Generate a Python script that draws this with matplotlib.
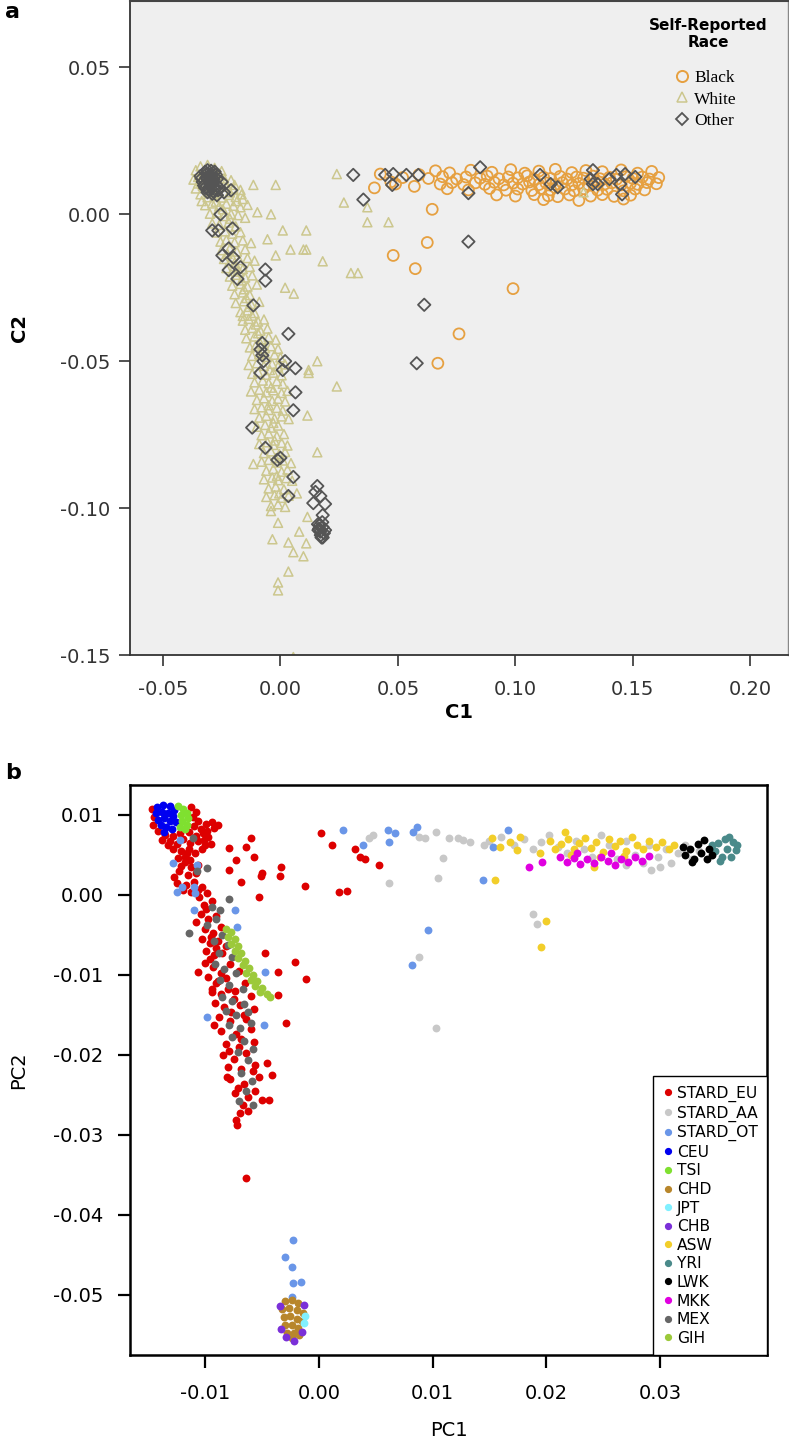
import matplotlib
matplotlib.use("Agg")
import matplotlib.pyplot as plt
import numpy as np
from matplotlib.lines import Line2D

# =========================
# PANEL A DATA (C1, C2)
# =========================
black = [
    (0.040, 0.009), (0.0425, 0.0137), (0.047, 0.011), (0.049, 0.0103), (0.052, 0.0125), (0.057, 0.0095), (0.059, 0.0135),
    (0.0646, 0.0017), (0.0625, -0.0096), (0.048, -0.014), (0.0574, -0.0185), (0.099, -0.0253), (0.076, -0.0407), (0.067, -0.0507),
    (0.066, 0.0148), (0.072, 0.0141), (0.081, 0.0150), (0.090, 0.0143), (0.098, 0.0152), (0.104, 0.0140), (0.110, 0.0147),
    (0.117, 0.0153), (0.124, 0.0142), (0.130, 0.0149), (0.137, 0.0145), (0.145, 0.0151), (0.152, 0.0140), (0.158, 0.0146),
    (0.063, 0.0122), (0.069, 0.0128), (0.075, 0.0120), (0.079, 0.0127), (0.085, 0.0123), (0.088, 0.0130), (0.093, 0.0121),
    (0.097, 0.0127), (0.101, 0.0124), (0.105, 0.0131), (0.108, 0.0119), (0.112, 0.0126), (0.115, 0.0122), (0.119, 0.0129),
    (0.122, 0.0120), (0.126, 0.0127), (0.129, 0.0123), (0.133, 0.0130), (0.136, 0.0121), (0.140, 0.0126), (0.143, 0.0119),
    (0.147, 0.0128), (0.150, 0.0122), (0.154, 0.0127), (0.157, 0.0120), (0.161, 0.0125),
    (0.068, 0.0103), (0.073, 0.0108), (0.078, 0.0101), (0.083, 0.0107), (0.087, 0.0102), (0.091, 0.0109), (0.095, 0.0100),
    (0.099, 0.0106), (0.103, 0.0103), (0.106, 0.0110), (0.110, 0.0101), (0.113, 0.0107), (0.117, 0.0102), (0.120, 0.0108),
    (0.124, 0.0100), (0.127, 0.0105), (0.131, 0.0101), (0.134, 0.0109), (0.138, 0.0103), (0.141, 0.0107), (0.145, 0.0100),
    (0.149, 0.0106), (0.152, 0.0102), (0.156, 0.0108), (0.160, 0.0104),
    (0.071, 0.0087), (0.080, 0.0083), (0.089, 0.0088), (0.096, 0.0082), (0.101, 0.0086), (0.107, 0.0081), (0.111, 0.0088),
    (0.115, 0.0083), (0.121, 0.0086), (0.125, 0.0080), (0.129, 0.0087), (0.135, 0.0082), (0.139, 0.0085), (0.146, 0.0080),
    (0.151, 0.0086), (0.155, 0.0083),
    (0.092, 0.0066), (0.100, 0.0062), (0.108, 0.0067), (0.114, 0.0063), (0.118, 0.0060), (0.123, 0.0066), (0.132, 0.0062),
    (0.137, 0.0067), (0.142, 0.0061), (0.149, 0.0065), (0.112, 0.0050), (0.127, 0.0047), (0.146, 0.0052),
]

white = [
    (-0.036, 0.015), (-0.034, 0.0163), (-0.031, 0.0168), (-0.028, 0.0158), (-0.025, 0.0147),
    (-0.037, 0.0118), (-0.035, 0.0127), (-0.033, 0.0134), (-0.030, 0.0139), (-0.027, 0.0128), (-0.024, 0.0122), (-0.021, 0.0116),
    (-0.036, 0.0088), (-0.033, 0.0097), (-0.029, 0.0092), (-0.026, 0.0101), (-0.023, 0.0094), (-0.020, 0.0087), (-0.017, 0.0083),
    (-0.034, 0.0068), (-0.031, 0.0058), (-0.028, 0.0063), (-0.025, 0.0057), (-0.022, 0.0066), (-0.019, 0.0059), (-0.016, 0.0052),
    (-0.032, 0.0031), (-0.029, 0.0037), (-0.026, 0.0028), (-0.023, 0.0036), (-0.020, 0.0029), (-0.017, 0.0024), (-0.014, 0.0032),
    (-0.030, 0.0002), (-0.027, 0.0006), (-0.024, -0.0006), (-0.021, 0.0001), (-0.018, -0.0003), (-0.015, -0.0012),
    (-0.029, -0.0031), (-0.026, -0.0036), (-0.022, -0.0028), (-0.019, -0.0041),
    (-0.035, 0.0105), (-0.032, 0.0118), (-0.0285, 0.0148), (-0.026, 0.0138), (-0.0235, 0.0107), (-0.0215, 0.0075),
    (-0.0185, 0.0045), (-0.0335, 0.0045), (-0.0305, 0.0077), (-0.0275, 0.0043), (-0.0245, 0.0017), (-0.0215, -0.0015),
    (-0.0165, 0.0068), (-0.0195, 0.0100),
    (-0.027, -0.0062), (-0.0235, -0.0058), (-0.0205, -0.0066), (-0.017, -0.0061),
    (-0.0255, -0.0093), (-0.023, -0.0087), (-0.0195, -0.0095), (-0.016, -0.0089), (-0.0125, -0.0098),
    (-0.025, -0.0122), (-0.0215, -0.0116), (-0.0185, -0.0127), (-0.015, -0.0119),
    (-0.024, -0.0152), (-0.0205, -0.0147), (-0.0175, -0.0156), (-0.014, -0.0149), (-0.011, -0.0158),
    (-0.023, -0.0183), (-0.0195, -0.0177), (-0.016, -0.0186), (-0.013, -0.0179),
    (-0.0215, -0.0212), (-0.019, -0.0206), (-0.015, -0.0215), (-0.012, -0.0208),
    (-0.0205, -0.0243), (-0.017, -0.0237), (-0.014, -0.0246), (-0.010, -0.0239),
    (-0.0195, -0.0272), (-0.016, -0.0266), (-0.013, -0.0275),
    (-0.019, -0.0302), (-0.0155, -0.0296), (-0.0125, -0.0305), (-0.009, -0.0298),
    (-0.017, -0.0333), (-0.014, -0.0327), (-0.011, -0.0336),
    (-0.016, -0.0362), (-0.0135, -0.0356), (-0.0095, -0.0365), (-0.007, -0.0358),
    (-0.015, -0.0393), (-0.012, -0.0387), (-0.0085, -0.0396), (-0.0055, -0.0389),
    (-0.0145, -0.0422), (-0.011, -0.0416), (-0.008, -0.0425), (-0.005, -0.0418), (-0.002, -0.0427),
    (-0.013, -0.0453), (-0.0105, -0.0447), (-0.0065, -0.0456), (-0.004, -0.0449), (-0.001, -0.0458),
    (-0.012, -0.0482), (-0.009, -0.0476), (-0.006, -0.0485), (-0.0025, -0.0478), (0.000, -0.0487),
    (-0.0135, -0.0513), (-0.010, -0.0507), (-0.007, -0.0516), (-0.0035, -0.0509), (-0.001, -0.0518), (0.002, -0.0511),
    (-0.012, -0.0543), (-0.0095, -0.0537), (-0.006, -0.0546), (-0.003, -0.0539), (0.0005, -0.0548),
    (-0.011, -0.0572), (-0.0075, -0.0566), (-0.005, -0.0575), (-0.0015, -0.0568), (0.001, -0.0577),
    (-0.0125, -0.0603), (-0.009, -0.0597), (-0.006, -0.0606), (-0.003, -0.0599), (0.0005, -0.0608), (0.003, -0.0601),
    (-0.010, -0.0632), (-0.007, -0.0626), (-0.0035, -0.0635), (-0.001, -0.0628), (0.002, -0.0637),
    (-0.011, -0.0663), (-0.008, -0.0657), (-0.005, -0.0666), (-0.0015, -0.0659), (0.001, -0.0668),
    (-0.009, -0.0692), (-0.006, -0.0686), (-0.0025, -0.0695), (0.0005, -0.0688), (0.0035, -0.0697),
    (-0.010, -0.0723), (-0.0065, -0.0717), (-0.004, -0.0726), (-0.001, -0.0719),
    (-0.008, -0.0752), (-0.005, -0.0746), (-0.0015, -0.0755), (0.0015, -0.0748),
    (-0.009, -0.0782), (-0.0055, -0.0776), (-0.003, -0.0785), (0.0005, -0.0778), (0.003, -0.0787),
    (-0.007, -0.0813), (-0.004, -0.0807), (-0.0005, -0.0816), (0.002, -0.0809),
    (-0.008, -0.0842), (-0.005, -0.0836), (-0.0015, -0.0845), (0.001, -0.0838), (0.0045, -0.0847),
    (-0.006, -0.0873), (-0.003, -0.0867), (0.0005, -0.0876), (0.003, -0.0869),
    (-0.007, -0.0902), (-0.0035, -0.0896), (-0.001, -0.0905), (0.0025, -0.0898), (0.005, -0.0907),
    (-0.005, -0.0933), (-0.002, -0.0927), (0.0015, -0.0936),
    (-0.006, -0.0962), (-0.0025, -0.0956), (0.0005, -0.0965), (0.0035, -0.0958),
    (-0.004, -0.0993), (-0.001, -0.0987), (0.002, -0.0996),
    (-0.0225, -0.0135), (-0.0195, -0.0165), (-0.0175, -0.0195), (-0.0165, -0.0225), (-0.0155, -0.0255), (-0.0145, -0.0285),
    (-0.0135, -0.0315), (-0.0120, -0.0345), (-0.0105, -0.0375), (-0.0095, -0.0405), (-0.0085, -0.0440), (-0.0075, -0.0470),
    (-0.0045, -0.0530), (-0.0040, -0.0590), (-0.0050, -0.0650), (-0.0030, -0.0710), (-0.0025, -0.0770), (-0.0020, -0.0830),
    (-0.0015, -0.0890), (-0.0005, -0.0950),
    (-0.004, -0.101), (-0.001, -0.105), (-0.0034, -0.1106), (0.0034, -0.1117), (0.0055, -0.115), (0.0098, -0.1164),
    (0.0034, -0.1216), (-0.001, -0.1253), (-0.001, -0.128), (0.0115, -0.103), (0.008, -0.108), (0.011, -0.112),
    (0.007, -0.095), (0.0055, -0.1507),
    (0.0157, -0.081), (0.024, -0.0586), (0.0157, -0.050), (0.012, -0.054), (0.0115, -0.0685), (-0.016, -0.0346), (-0.0115, -0.085),
    (-0.002, 0.010), (-0.0115, 0.010), (-0.004, 0.0), (0.001, -0.0055), (0.011, -0.0055), (-0.0055, -0.0085), (0.0043, -0.012),
    (0.0098, -0.012), (-0.002, -0.014), (0.018, -0.016), (0.030, -0.020), (0.033, -0.020), (-0.0098, 0.0007), (0.002, -0.025),
    (0.0057, -0.027), (0.024, 0.0137), (0.027, 0.004), (0.037, 0.0024), (0.037, -0.0027), (0.046, -0.0027), (0.011, -0.012),
    (0.012, -0.053), (0.129, 0.0075),
]

other = [
    (-0.034, 0.013), (-0.032, 0.0145), (-0.030, 0.0135), (-0.028, 0.0145), (-0.033, 0.011), (-0.031, 0.012), (-0.029, 0.011),
    (-0.027, 0.012), (-0.025, 0.011), (-0.032, 0.009), (-0.030, 0.0095), (-0.028, 0.0085), (-0.026, 0.009), (-0.031, 0.0075),
    (-0.029, 0.007), (-0.027, 0.0065), (-0.024, 0.0075), (-0.021, 0.0082), (-0.029, 0.0125), (-0.030, 0.0105),
    (-0.0335, 0.0122), (-0.0315, 0.0138), (-0.0295, 0.0148), (-0.0275, 0.0135), (-0.0285, 0.0118), (-0.0305, 0.0112),
    (-0.0325, 0.0098), (-0.0295, 0.0098), (-0.0275, 0.0102), (-0.0265, 0.0082), (-0.0305, 0.0085), (-0.0285, 0.0078),
    (-0.0315, 0.0125), (-0.0290, 0.0135), (-0.0310, 0.0150),
    (-0.0255, 0.0), (-0.029, -0.0055), (-0.0264, -0.0055), (-0.0204, -0.0048), (-0.022, -0.0116), (-0.0247, -0.014),
    (-0.020, -0.0147), (-0.017, -0.018), (-0.022, -0.019), (-0.0183, -0.022), (-0.0064, -0.0188), (-0.0064, -0.0226),
    (-0.0115, -0.031), (0.0034, -0.0407), (-0.0077, -0.0438), (-0.0085, -0.046), (-0.0077, -0.048), (-0.0072, -0.050),
    (-0.0085, -0.054), (0.002, -0.050), (0.001, -0.053), (0.0064, -0.0524), (0.0064, -0.0606), (0.0055, -0.0667),
    (-0.012, -0.0726), (-0.0064, -0.0795), (-0.0013, -0.0836), (0.0, -0.0829), (0.0055, -0.0894), (0.0034, -0.0959),
    (0.0157, -0.0925), (0.0149, -0.0945), (0.017, -0.0959), (0.014, -0.0983), (0.019, -0.0986), (0.018, -0.1024),
    (0.016, -0.1055), (0.018, -0.1065), (0.017, -0.108), (0.019, -0.1075), (0.0175, -0.110), (0.0165, -0.107),
    (0.0168, -0.1058), (0.0178, -0.1048), (0.0185, -0.1085), (0.0172, -0.1092), (0.0162, -0.1075), (0.0180, -0.1100),
    (0.031, 0.0134), (0.0353, 0.005), (0.0446, 0.0134), (0.048, 0.0137), (0.0476, 0.010), (0.0536, 0.0134), (0.0587, 0.0134),
    (0.085, 0.016), (0.080, 0.0072), (0.080, -0.0093), (0.0612, -0.0308), (0.058, -0.0507), (0.1105, 0.0134), (0.115, 0.0103),
    (0.118, 0.0092), (0.133, 0.015), (0.132, 0.012), (0.133, 0.0103), (0.135, 0.0103), (0.140, 0.012), (0.143, 0.0134),
    (0.1467, 0.0137), (0.151, 0.0127), (0.1446, 0.0103), (0.1454, 0.0068),
]

race_labels = ["Black", "White", "Other"]

# =========================
# PANEL B DATA (PC1, PC2)
# =========================
stard_eu = [
    (-0.0147, 0.0108), (-0.0145, 0.0098), (-0.0146, 0.0088), (-0.0141, 0.0080), (-0.0135, 0.0075), (-0.0128, 0.0074),
    (-0.0122, 0.0078), (-0.0112, 0.0110), (-0.0108, 0.0104), (-0.0111, 0.0097), (-0.0106, 0.0092), (-0.0110, 0.0086),
    (-0.0104, 0.0083), (-0.0099, 0.0089), (-0.0094, 0.0091), (-0.0089, 0.0088), (-0.0114, 0.0079), (-0.0108, 0.0074),
    (-0.0102, 0.0077), (-0.0097, 0.0072), (-0.0131, 0.0068), (-0.0125, 0.0064), (-0.0119, 0.0070), (-0.0113, 0.0065),
    (-0.0106, 0.0068), (-0.0100, 0.0063), (-0.0128, 0.0058), (-0.0121, 0.0055), (-0.0114, 0.0058), (-0.0109, 0.0053),
    (-0.0118, 0.0048), (-0.0103, 0.0057),
    (-0.0133, 0.0062), (-0.0138, 0.0069), (-0.0124, 0.0046), (-0.0116, 0.0052), (-0.0098, 0.0080), (-0.0092, 0.0084),
    (-0.0101, 0.0069), (-0.0095, 0.0064), (-0.0121, 0.0036), (-0.0113, 0.0044), (-0.0127, 0.0023), (-0.0106, 0.0037),
    (-0.0119, 0.0006), (-0.0106, 0.0006), (-0.0099, -0.0017), (-0.0108, -0.0034), (-0.0095, -0.0052), (-0.0090, -0.0066),
    (-0.0096, -0.0080), (-0.0086, -0.0098), (-0.0080, -0.0118), (-0.0077, -0.0146), (-0.0092, -0.0162), (-0.0068, -0.0180),
    (-0.0079, -0.0195), (-0.0058, -0.0220), (-0.0071, -0.0241), (-0.0056, -0.0245), (-0.0069, -0.0272), (-0.0081, -0.0228),
    (-0.0090, -0.0110), (-0.0075, -0.0130), (-0.0066, -0.0150),
    (-0.0079, 0.0059), (-0.0060, 0.0071), (-0.0064, 0.0060), (-0.0073, 0.0044), (-0.0057, 0.0048), (-0.0079, 0.0031),
    (-0.0050, 0.0028), (-0.0051, 0.0024), (-0.0068, 0.0016), (-0.0053, -0.0003), (-0.0033, 0.0035), (-0.0034, 0.0024),
    (-0.0012, 0.0011), (0.0002, 0.0078), (0.0012, 0.0063), (0.0018, 0.0004), (0.0025, 0.0005), (0.0032, 0.0058),
    (0.0036, 0.0048), (0.0041, 0.0045), (0.0053, 0.0037), (-0.0047, -0.0073), (-0.0021, -0.0084), (-0.0036, -0.0096),
    (-0.0011, -0.0105), (-0.0036, -0.0125), (-0.0029, -0.0160), (-0.0106, -0.0096), (-0.0094, -0.0121),
    (-0.0118, 0.0041), (-0.0112, 0.0035), (-0.0123, 0.0030), (-0.0115, 0.0025), (-0.0108, 0.0028), (-0.0125, 0.0015),
    (-0.0117, 0.0012), (-0.0110, 0.0016), (-0.0103, 0.0010), (-0.0112, 0.0004), (-0.0105, -0.0002), (-0.0098, 0.0002),
    (-0.0101, -0.0012), (-0.0094, -0.0008), (-0.0104, -0.0024), (-0.0097, -0.0030), (-0.0090, -0.0026), (-0.0100, -0.0042),
    (-0.0093, -0.0047), (-0.0086, -0.0040), (-0.0103, -0.0055), (-0.0096, -0.0060), (-0.0089, -0.0058), (-0.0082, -0.0064),
    (-0.0099, -0.0070), (-0.0092, -0.0075), (-0.0085, -0.0072), (-0.0100, -0.0085), (-0.0093, -0.0090), (-0.0078, -0.0086),
    (-0.0070, -0.0095), (-0.0097, -0.0102), (-0.0089, -0.0108), (-0.0082, -0.0104), (-0.0065, -0.0110), (-0.0094, -0.0118),
    (-0.0086, -0.0124), (-0.0074, -0.0120), (-0.0060, -0.0126), (-0.0091, -0.0135), (-0.0083, -0.0140), (-0.0069, -0.0138),
    (-0.0057, -0.0142), (-0.0088, -0.0152), (-0.0078, -0.0158), (-0.0064, -0.0155), (-0.0086, -0.0170), (-0.0073, -0.0174),
    (-0.0060, -0.0168), (-0.0082, -0.0186), (-0.0070, -0.0190), (-0.0057, -0.0184), (-0.0084, -0.0200), (-0.0075, -0.0205),
    (-0.0064, -0.0198), (-0.0080, -0.0215), (-0.0068, -0.0218), (-0.0056, -0.0212), (-0.0046, -0.0210), (-0.0078, -0.0230),
    (-0.0066, -0.0236), (-0.0053, -0.0228), (-0.0041, -0.0225), (-0.0074, -0.0248), (-0.0062, -0.0252), (-0.0050, -0.0256),
    (-0.0044, -0.0256), (-0.0067, -0.0263), (-0.0073, -0.0281), (-0.0072, -0.0288), (-0.0062, -0.0270), (-0.0064, -0.0354),
]

stard_aa = [
    (0.0044, 0.0071), (0.0048, 0.0075), (0.0062, 0.0015), (0.0088, 0.0073), (0.0093, 0.0071), (0.0103, 0.0079),
    (0.0114, 0.0071), (0.0109, 0.0046), (0.0105, 0.0021), (0.0088, -0.0078), (0.0103, -0.0166), (0.0122, 0.0071),
    (0.0127, 0.0069), (0.0133, 0.0066), (0.0145, 0.0062), (0.0150, 0.0068), (0.0160, 0.0072), (0.0172, 0.0063),
    (0.0180, 0.0070), (0.0188, 0.0058), (0.0195, 0.0066), (0.0202, 0.0075), (0.0210, 0.0060), (0.0218, 0.0052),
    (0.0226, 0.0068), (0.0233, 0.0058), (0.0240, 0.0048), (0.0248, 0.0075), (0.0255, 0.0062), (0.0262, 0.0045),
    (0.0270, 0.0068), (0.0278, 0.0050), (0.0285, 0.0040), (0.0292, 0.0031), (0.0290, 0.0062), (0.0298, 0.0048),
    (0.0305, 0.0057), (0.0310, 0.0040), (0.0316, 0.0052), (0.0322, 0.0062), (0.0328, 0.0045), (0.0334, 0.0055),
    (0.0300, 0.0035), (0.0270, 0.0038), (0.0188, -0.0024), (0.0192, -0.0036),
]

stard_ot = [
    (-0.0128, 0.0040), (-0.0125, 0.0004), (-0.0120, 0.0010), (-0.0110, 0.0010), (-0.0109, 0.0002), (-0.0107, 0.0037),
    (-0.0110, -0.0019), (-0.0074, -0.0019), (-0.0072, -0.0040), (-0.0047, -0.0096), (-0.0098, -0.0153), (-0.0048, -0.0163),
    (-0.0122, 0.0069), (0.0021, 0.0081), (0.0039, 0.0063), (0.0061, 0.0081), (0.0067, 0.0078), (0.0062, 0.0066),
    (0.0086, 0.0085), (0.0083, 0.0079), (0.0096, -0.0044), (0.0082, -0.0088), (0.0166, 0.0081), (0.0153, 0.0060),
    (0.0144, 0.0019), (-0.0023, -0.0431), (-0.0030, -0.0452), (-0.0024, -0.0465), (-0.0023, -0.0485), (-0.0016, -0.0484),
    (-0.0024, -0.0503),
]

ceu = [
    (-0.0142, 0.0110), (-0.0137, 0.0113), (-0.0131, 0.0111), (-0.0127, 0.0106), (-0.0143, 0.0102), (-0.0138, 0.0104),
    (-0.0133, 0.0102), (-0.0128, 0.0099), (-0.0141, 0.0094), (-0.0136, 0.0096), (-0.0131, 0.0093), (-0.0126, 0.0091),
    (-0.0139, 0.0087), (-0.0134, 0.0085), (-0.0129, 0.0083), (-0.0136, 0.0079),
]

tsi = [
    (-0.0124, 0.0111), (-0.0119, 0.0108), (-0.0116, 0.0103), (-0.0121, 0.0100), (-0.0115, 0.0096), (-0.0120, 0.0092),
    (-0.0116, 0.0088), (-0.0122, 0.0085), (-0.0118, 0.0082),
]

chd = [
    (-0.0030, -0.0508), (-0.0024, -0.0506), (-0.0018, -0.0510), (-0.0032, -0.0518), (-0.0026, -0.0516), (-0.0019, -0.0519),
    (-0.0014, -0.0522), (-0.0031, -0.0528), (-0.0025, -0.0526), (-0.0019, -0.0530), (-0.0015, -0.0533), (-0.0030, -0.0538),
    (-0.0024, -0.0537), (-0.0018, -0.0541), (-0.0028, -0.0547), (-0.0022, -0.0548), (-0.0017, -0.0550), (-0.0024, -0.0554),
]

jpt = [(-0.0013, -0.0535), (-0.0012, -0.0526)]

chb = [(-0.0034, -0.0514), (-0.0033, -0.0542), (-0.0022, -0.0557), (-0.0013, -0.0512), (-0.0029, -0.0553), (-0.0015, -0.0546)]

asw = [
    (0.0155, 0.0019), (0.0216, 0.0079), (0.0152, 0.0071), (0.0159, 0.0060), (0.0168, 0.0066), (0.0177, 0.0073),
    (0.0174, 0.0056), (0.0194, 0.0053), (0.0242, 0.0035), (0.0203, 0.0068), (0.0208, 0.0058), (0.0213, 0.0064),
    (0.0219, 0.0070), (0.0224, 0.0057), (0.0229, 0.0065), (0.0234, 0.0071), (0.0239, 0.0059), (0.0244, 0.0066),
    (0.0250, 0.0054), (0.0255, 0.0070), (0.0260, 0.0061), (0.0265, 0.0067), (0.0270, 0.0055), (0.0275, 0.0072),
    (0.0280, 0.0062), (0.0285, 0.0057), (0.0290, 0.0068), (0.0296, 0.0060), (0.0302, 0.0066), (0.0308, 0.0058),
    (0.0312, 0.0063), (0.0222, 0.0050), (0.0247, 0.0048), (0.0268, 0.0049), (0.0200, -0.0032), (0.0195, -0.0065),
]

yri = [
    (0.0348, 0.0055), (0.0351, 0.0065), (0.0354, 0.0047), (0.0357, 0.0070), (0.0359, 0.0058), (0.0362, 0.0048),
    (0.0364, 0.0066), (0.0367, 0.0056), (0.0353, 0.0042), (0.0361, 0.0073), (0.0368, 0.0062), (0.0346, 0.0062),
]

lwk = [
    (0.0322, 0.0050), (0.0326, 0.0058), (0.0330, 0.0045), (0.0333, 0.0064), (0.0336, 0.0052), (0.0339, 0.0069),
    (0.0341, 0.0045), (0.0343, 0.0058), (0.0328, 0.0041), (0.0320, 0.0060), (0.0346, 0.0050),
]

mkk = [
    (0.0185, 0.0035), (0.0196, 0.0041), (0.0212, 0.0048), (0.0218, 0.0041), (0.0224, 0.0046), (0.0230, 0.0039),
    (0.0236, 0.0045), (0.0242, 0.0040), (0.0248, 0.0047), (0.0254, 0.0042), (0.0260, 0.0038), (0.0266, 0.0045),
    (0.0272, 0.0041), (0.0278, 0.0047), (0.0284, 0.0043), (0.0290, 0.0049), (0.0227, 0.0052), (0.0257, 0.0052),
]

mex = [
    (-0.0111, 0.0071), (-0.0098, 0.0034), (-0.0107, 0.0030), (-0.0079, -0.0005), (-0.0094, -0.0015), (-0.0087, -0.0019),
    (-0.0098, -0.0037), (-0.0114, -0.0047), (-0.0090, -0.0030), (-0.0085, -0.0050), (-0.0092, -0.0058), (-0.0080, -0.0062),
    (-0.0088, -0.0072), (-0.0076, -0.0078), (-0.0091, -0.0086), (-0.0083, -0.0092), (-0.0073, -0.0098), (-0.0087, -0.0106),
    (-0.0079, -0.0112), (-0.0067, -0.0118), (-0.0085, -0.0128), (-0.0076, -0.0132), (-0.0066, -0.0136), (-0.0082, -0.0145),
    (-0.0073, -0.0150), (-0.0062, -0.0146), (-0.0079, -0.0162), (-0.0069, -0.0166), (-0.0060, -0.0160), (-0.0076, -0.0178),
    (-0.0066, -0.0182), (-0.0058, -0.0192), (-0.0071, -0.0196), (-0.0062, -0.0206), (-0.0068, -0.0222), (-0.0059, -0.0232),
    (-0.0064, -0.0245), (-0.0070, -0.0258), (-0.0058, -0.0262),
]

gih = [
    (-0.0082, -0.0042), (-0.0077, -0.0046), (-0.0080, -0.0052), (-0.0074, -0.0055), (-0.0077, -0.0061), (-0.0071, -0.0064),
    (-0.0074, -0.0070), (-0.0068, -0.0073), (-0.0071, -0.0079), (-0.0065, -0.0082), (-0.0067, -0.0088), (-0.0061, -0.0091),
    (-0.0064, -0.0097), (-0.0058, -0.0100), (-0.0060, -0.0106), (-0.0054, -0.0108), (-0.0056, -0.0114), (-0.0050, -0.0116),
    (-0.0052, -0.0121), (-0.0046, -0.0124), (-0.0043, -0.0128),
]

pop_labels = ["STARD_EU", "STARD_AA", "STARD_OT", "CEU", "TSI", "CHD", "JPT", "CHB",
              "ASW", "YRI", "LWK", "MKK", "MEX", "GIH"]
pop_data = [stard_eu, stard_aa, stard_ot, ceu, tsi, chd, jpt, chb, asw, yri, lwk, mkk, mex, gih]
pop_colors = ["#DD0000", "#C8C8C8", "#6A96E8", "#0000F0", "#7FE030", "#B8862B", "#80F0FF", "#7B30D8",
              "#F2CE2A", "#4A8A8A", "#000000", "#E000E0", "#666666", "#9CC93A"]

# =========================
# FIGURE
# =========================
W, H = 789, 1451
fig = plt.figure(figsize=(W / 100, H / 100), dpi=100, facecolor="white")
plt.rcParams["font.family"] = "DejaVu Sans"

# ---------- panel a ----------
ax_a = fig.add_axes([130 / W, 1 - 655 / H, (788 - 130) / W, (655 - 1) / H])
ax_a.set_facecolor("#EFEFEF")
ax_a.set_xlim(-0.064, 0.216)
ax_a.set_ylim(-0.15, 0.0726)

bx, by = np.array(black).T
wx, wy = np.array(white).T
ox, oy = np.array(other).T
ax_a.scatter(bx, by, s=62, marker="o", facecolors="none", edgecolors="#E6A040", linewidths=1.3)
ax_a.scatter(wx, wy, s=42, marker="^", facecolors="none", edgecolors="#CCC78E", linewidths=1.1)
ax_a.scatter(ox, oy, s=40, marker="D", facecolors="none", edgecolors="#555555", linewidths=1.3)

ax_a.set_xticks([-0.05, 0.0, 0.05, 0.10, 0.15, 0.20])
ax_a.set_yticks([-0.15, -0.10, -0.05, 0.0, 0.05])
ax_a.set_xticklabels(["%.2f" % v for v in ax_a.get_xticks()])
ax_a.set_yticklabels(["%.2f" % v for v in ax_a.get_yticks()])
ax_a.tick_params(direction="out", length=8, width=1.2, colors="#333333", labelsize=14)
ax_a.tick_params(axis="x", pad=10)
ax_a.tick_params(axis="y", pad=6)
for side in ["left", "bottom"]:
    ax_a.spines[side].set_color("#333333")
    ax_a.spines[side].set_linewidth(1.3)
ax_a.spines["top"].set_color("#444444")
ax_a.spines["right"].set_color("#888888")
ax_a.spines["top"].set_linewidth(1.5)
ax_a.spines["right"].set_linewidth(1.0)
ax_a.set_xlabel("C1", fontsize=14, fontweight="bold", labelpad=3)
ax_a.set_ylabel("C2", fontsize=14, fontweight="bold", labelpad=22)

# legend of panel a: bold title and serif entries
fig.text(708 / W, 1 - 34 / H, "Self-Reported\nRace", fontsize=11, fontweight="bold",
         ha="center", va="center", multialignment="center", linespacing=1.15)
handles_a = [
    Line2D([], [], marker="o", ls="none", mfc="none", mec="#E6A040", mew=1.4, ms=8),
    Line2D([], [], marker="^", ls="none", mfc="none", mec="#CCC78E", mew=1.1, ms=6.5),
    Line2D([], [], marker="D", ls="none", mfc="none", mec="#555555", mew=1.3, ms=6),
]
leg_a = ax_a.legend(handles_a, race_labels, loc="center left",
                    bbox_to_anchor=(675 / W, 1 - 99.5 / H), bbox_transform=fig.transFigure,
                    frameon=False, prop={"family": "Liberation Serif", "size": 12.5},
                    handlelength=0.8, handletextpad=0.3, labelspacing=0.32, borderpad=0, borderaxespad=0)

fig.text(5 / W, 1 - 12 / H, "a", fontsize=16, fontweight="bold", va="center", ha="left")

# ---------- panel b ----------
ax_b = fig.add_axes([130 / W, 1 - 1355 / H, (767 - 130) / W, (1355 - 785) / H])
ax_b.set_xlim(-0.0166, 0.0394)
ax_b.set_ylim(-0.0575, 0.01375)

for pts, col, lab in zip(pop_data, pop_colors, pop_labels):
    px, py = np.array(pts).T
    ax_b.scatter(px, py, s=32, color=col, linewidths=0, label=lab)

ax_b.set_xticks([-0.01, 0.0, 0.01, 0.02, 0.03])
ax_b.set_yticks([-0.05, -0.04, -0.03, -0.02, -0.01, 0.0, 0.01])
ax_b.set_xticklabels(["%.2f" % v for v in ax_b.get_xticks()])
ax_b.set_yticklabels(["%.2f" % v for v in ax_b.get_yticks()])
ax_b.tick_params(direction="out", length=9, width=1.6, colors="black", labelsize=14)
ax_b.tick_params(axis="x", pad=12)
ax_b.tick_params(axis="y", pad=10)
for side in ax_b.spines:
    ax_b.spines[side].set_linewidth(1.8)
    ax_b.spines[side].set_color("black")
ax_b.set_xlabel("PC1", fontsize=14, labelpad=13)
ax_b.set_ylabel("PC2", fontsize=14, labelpad=18)

handles_b = [Line2D([], [], marker="o", ls="none", color=c, ms=4.2) for c in pop_colors]
leg_b = ax_b.legend(handles_b, pop_labels, loc="lower right", bbox_to_anchor=(1.0, 0.0),
                    fancybox=False, edgecolor="black", framealpha=1, fontsize=11.2,
                    handlelength=0.7, handletextpad=0.2, labelspacing=0.23, borderpad=0.6,
                    borderaxespad=0)
leg_b.get_frame().set_linewidth(1.0)

fig.text(5 / W, 1 - 773 / H, "b", fontsize=16, fontweight="bold", va="center", ha="left")

fig.savefig("out.png", dpi=100)
